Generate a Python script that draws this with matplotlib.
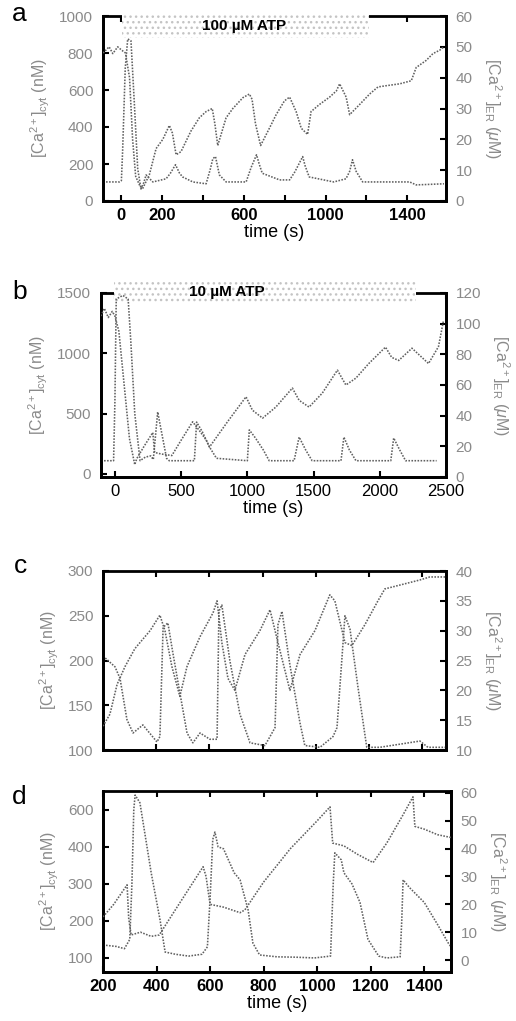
import matplotlib
matplotlib.use("Agg")
import matplotlib.pyplot as plt
import matplotlib.transforms as mtransforms
from matplotlib.patches import Rectangle

plt.rcParams["font.family"] = ["Liberation Sans", "DejaVu Sans"]
plt.rcParams["mathtext.fontset"] = "custom"
plt.rcParams["mathtext.rm"] = "Liberation Sans"
plt.rcParams["mathtext.it"] = "Liberation Sans:italic"
plt.rcParams["mathtext.bf"] = "Liberation Sans:bold"

# ---------------- data ----------------
# panel a (100 uM ATP)
t_a_cyt = [-90, -10, 0, 6, 19, 31, 47, 63, 80, 96, 110, 121, 154, 219, 240, 265, 285, 300, 350, 415, 435,
           448, 461, 480, 513, 611, 635, 662, 675, 690, 775, 824, 850, 888, 900, 920, 1040, 1100, 1118,
           1132, 1150, 1182, 1412, 1444, 1580]
cyt_a = [103, 103, 110, 267, 719, 876, 866, 539, 174, 65, 100, 141, 103, 120, 150, 196, 150, 130, 103, 93, 170,
         229, 240, 141, 103, 103, 180, 250, 200, 150, 114, 114, 158, 240, 190, 130, 103, 120, 160,
         223, 160, 103, 103, 87, 93]
t_a_er = [-90, -60, -42, -18, 0, 20, 40, 55, 70, 90, 104, 137, 170, 203, 235, 250, 268, 292, 340, 382, 415,
          445, 458, 472, 513, 546, 595, 627, 640, 657, 682, 725, 758, 799, 824, 856, 881, 912, 929, 970,
          1020, 1053, 1069, 1101, 1118, 1167, 1216, 1257, 1298, 1363, 1420, 1444, 1493, 1526, 1559, 1580]
er_a = [48, 50, 47.8, 50, 49, 48, 40, 20, 8, 5, 4, 8.5, 17, 20, 24.5, 22, 15, 16, 22.6, 27, 29,
        30, 25, 18, 27, 30, 33.5, 34.7, 33, 25, 18, 23.6, 28, 32.5, 33.7, 29, 23.6, 21.6, 29, 31.3,
        33.7, 35.7, 38, 33.7, 28, 31.3, 34.7, 37, 37.4, 38, 39, 43.3, 45.6, 47.8, 48.9, 50]

# panel b (10 uM ATP)
t_b_cyt = [-105, -10, 0, 10, 60, 100, 120, 150, 190, 230, 270, 290, 323, 390, 410, 600, 610, 617, 660,
           714, 767, 1000, 1015, 1060, 1120, 1165, 1353, 1391, 1440, 1489, 1707, 1729, 1770, 1820,
           2083, 2105, 2150, 2195, 2429]
cyt_b = [110, 110, 600, 1450, 1480, 1450, 1100, 500, 110, 140, 150, 120, 514, 130, 110, 110, 300, 430, 350,
         224, 130, 110, 365, 300, 200, 110, 110, 306, 200, 110, 110, 306, 200, 110,
         110, 298, 200, 110, 110]
t_b_er = [-105, -80, -50, -20, 0, 30, 70, 110, 150, 165, 220, 286, 300, 350, 430, 500, 587, 640, 690, 714,
          850, 990, 1038, 1115, 1215, 1340, 1391, 1466, 1566, 1680, 1744, 1820, 1917, 2043, 2090, 2143,
          2243, 2318, 2368, 2443, 2481]
er_b = [105, 110, 104, 108, 105, 95, 60, 25, 8, 12, 20, 29, 16, 15, 14, 24, 36, 30, 24, 19.5,
        36, 52.3, 43.6, 38.4, 45.6, 58, 50, 45.6, 54.7, 69.7, 60, 64.5, 74, 84.7, 78, 76,
        84, 78, 74, 85, 102]

# panel c
t_c_cyt = [0, 45, 64, 90, 113, 150, 203, 214, 226, 244, 263, 289, 316, 338, 365, 402, 429, 436, 447, 477,
           515, 553, 609, 647, 658, 673, 703, 741, 759, 816, 865, 880, 910, 929, 959, 992, 1041, 1192,
           1222, 1290]
cyt_c = [205, 193, 180, 134, 119, 128, 109, 115, 237, 242, 208, 164, 119, 108, 119, 112, 112, 255, 262, 200,
         140, 108, 105, 125, 240, 255, 195, 130, 105, 103, 115, 125, 250, 235, 170, 103, 103, 110,
         103, 103]
t_c_er = [0, 26, 53, 83, 120, 177, 214, 233, 259, 289, 316, 365, 414, 429, 447, 470, 496, 534, 590, 628,
          658, 703, 741, 797, 853, 872, 910, 936, 985, 1034, 1060, 1192, 1229, 1290]
er_c = [14, 16, 21, 24, 27, 30, 32.6, 30, 24, 19, 24, 29, 33, 35, 28, 22, 20, 26, 30, 33.5,
        28, 20, 26, 30, 36, 35, 28, 27.5, 31, 35, 37, 38.5, 39, 39]

# panel d
t_d_cyt = [200, 250, 280, 300, 308, 315, 320, 338, 380, 413, 432, 470, 520, 570, 590, 600, 610, 618, 630,
           650, 690, 712, 742, 760, 785, 850, 920, 990, 1050, 1060, 1066, 1090, 1100, 1130, 1160, 1190,
           1230, 1260, 1310, 1316, 1321, 1345, 1400, 1450, 1490, 1500]
cyt_d = [135, 131, 125, 150, 300, 500, 540, 519, 330, 203, 116, 110, 105, 110, 130, 260, 420, 440, 400,
         395, 330, 311, 230, 140, 108, 103, 102, 100, 105, 300, 384, 365, 330, 300, 250, 150,
         105, 100, 103, 200, 311, 290, 250, 190, 140, 130]
t_d_er = [200, 240, 290, 296, 305, 340, 380, 410, 470, 574, 585, 600, 650, 712, 730, 800, 900, 1000, 1048,
          1058, 1100, 1150, 1209, 1260, 1320, 1358, 1365, 1400, 1450, 1500]
er_d = [15.5, 20, 27, 15, 9, 10, 8.5, 9, 18, 33.5, 30, 20, 19, 17, 18, 28, 40, 50, 55,
        42, 41, 38, 35, 42, 52, 58.6, 48, 47, 45, 44]

# axis ticks / labels
ticks_a_x = [0, 200, 400, 600, 800, 1000, 1200, 1400]
labels_a_x = ["0", "200", "", "600", "", "1000", "", "1400"]
ticks_b_x = [0, 500, 1000, 1500, 2000, 2500]
ticks_d_x = [200, 400, 600, 800, 1000, 1200, 1400]
ticks_d_yl = [100, 200, 300, 400, 500]
labels_d_yl = ["100", "200", "300", "400", "600"]

# ---------------- style ----------------
W, H = 516, 1021
fig = plt.figure(figsize=(W / 100, H / 100), dpi=100)
TRACE = dict(color="#606060", lw=1.15, ls=(0, (1, 0.9)), zorder=6)
GRAY = "#8a8a8a"


def box(l, r, t, b):
    return [l / W, 1 - b / H, (r - l) / W, (b - t) / H]


def style(ax, ax2):
    for a in (ax, ax2):
        for s in a.spines.values():
            s.set_linewidth(2.0)
            s.set_color("black")
    ax2.spines["top"].set_visible(False)
    ax.tick_params(axis="x", direction="in", top=True, bottom=True, length=4, width=1.5, pad=5)
    ax.tick_params(axis="y", direction="in", left=True, right=False, length=4, width=1.5,
                   labelcolor=GRAY, labelsize=11, pad=7)
    ax2.tick_params(axis="y", direction="in", right=True, length=4, width=1.5,
                    labelcolor=GRAY, labelsize=11, pad=7)


def labels(ax, ax2):
    ax.set_ylabel(r"[Ca$^{2+}$]$_{\mathrm{cyt}}$ (nM)", color=GRAY, fontsize=11.5, labelpad=5)
    ax2.set_ylabel(r"[Ca$^{2+}$]$_{\mathrm{ER}}$ ($\mu$M)", color=GRAY, fontsize=11.5,
                   rotation=270, labelpad=22)


def band(ax, x0, x1, y0, y1, text, xt, yt):
    # drawn on the lower axes above its top spine, below the traces
    tr = mtransforms.blended_transform_factory(ax.transData, ax.transAxes)
    r = Rectangle((x0, y0), x1 - x0, y1 - y0, transform=tr, facecolor="white",
                  edgecolor="#c4c4c4", hatch="...", lw=0, clip_on=False, zorder=5)
    ax.add_patch(r)
    ax.text(xt, yt, text, transform=tr, ha="center", va="center", fontsize=11,
            fontweight="bold", zorder=7)


# ---- panel a ----
ax = fig.add_axes(box(103, 446, 16, 201))
ax2 = ax.twinx()
ax.plot(t_a_cyt, cyt_a, **TRACE)
ax2.plot(t_a_er, er_a, **TRACE)
ax.set_xlim(-90, 1590)
ax.set_ylim(0, 1000)
ax2.set_ylim(0, 60)
ax.set_yticks(range(0, 1001, 200))
ax2.set_yticks(range(0, 61, 10))
ax.set_xticks(ticks_a_x)
ax.set_xticklabels(labels_a_x, fontsize=12, fontweight="bold")
style(ax, ax2)
labels(ax, ax2)
ax.set_xlabel("time (s)", fontsize=13, labelpad=1)
band(ax, 5, 1215, 0.881, 1.016, "100 \u00b5M ATP", 603, 0.945)
fig.text(12 / W, 1 - 14 / H, "a", fontsize=19, va="center", ha="left")

# ---- panel b ----
ax = fig.add_axes(box(101, 446, 293, 477))
ax2 = ax.twinx()
ax.plot(t_b_cyt, cyt_b, **TRACE)
ax2.plot(t_b_er, er_b, **TRACE)
ax.set_xlim(-105, 2490)
ax.set_ylim(-25, 1500)
ax2.set_ylim(0, 120)
ax.set_yticks([0, 500, 1000, 1500])
ax2.set_yticks(range(0, 121, 20))
ax.set_xticks(ticks_b_x)
ax.tick_params(axis="x", labelsize=12)
style(ax, ax2)
labels(ax, ax2)
ax.set_xlabel("time (s)", fontsize=13, labelpad=1)
band(ax, -5, 2270, 0.946, 1.06, "10 \u00b5M ATP", 842, 1.005)
fig.text(12 / W, 1 - 292 / H, "b", fontsize=19, va="center", ha="left")

# ---- panel c ----
ax = fig.add_axes(box(103, 446, 571, 750))
ax2 = ax.twinx()
ax.plot(t_c_cyt, cyt_c, **TRACE)
ax2.plot(t_c_er, er_c, **TRACE)
ax.set_xlim(0, 1290)
ax.set_ylim(100, 300)
ax2.set_ylim(10, 40)
ax.set_yticks(range(100, 301, 50))
ax2.set_yticks(range(10, 41, 5))
ax.set_xticks([200, 400, 600, 800, 1000, 1200])
ax.set_xticklabels([])
style(ax, ax2)
labels(ax, ax2)
fig.text(14 / W, 1 - 566 / H, "c", fontsize=19, va="center", ha="left")

# ---- panel d ----
ax = fig.add_axes(box(103, 451, 791, 972))
ax2 = ax.twinx()
ax.plot(t_d_cyt, cyt_d, **TRACE)
ax2.plot(t_d_er, er_d, **TRACE)
ax.set_xlim(200, 1500)
ax.set_ylim(62, 551)
ax2.set_ylim(-4.3, 60.7)
ax.set_yticks(ticks_d_yl)
ax.set_yticklabels(labels_d_yl)
ax2.set_yticks(range(0, 61, 10))
ax.set_xticks(ticks_d_x)
ax.set_xticklabels([str(v) for v in ticks_d_x], fontsize=12, fontweight="bold")
style(ax, ax2)
labels(ax, ax2)
ax.set_xlabel("time (s)", fontsize=13, labelpad=1)
fig.text(12 / W, 1 - 797 / H, "d", fontsize=19, va="center", ha="left")

fig.savefig("out.png", dpi=100)
